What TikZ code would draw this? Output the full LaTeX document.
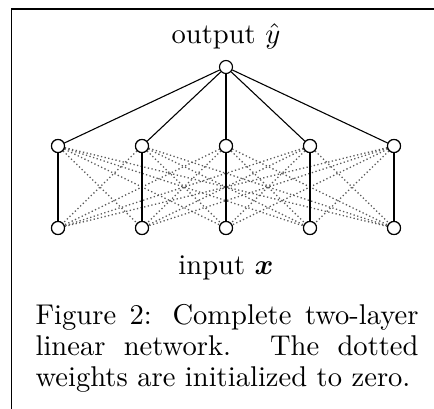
\documentclass[tikz,border=0pt]{standalone}
\usepackage{amsmath,amssymb,bm}
\tikzset{
  unit/.style={circle,draw,fill=white,inner sep=0pt,minimum size=13*0.35pt,line width=0.4pt},
  solidw/.style={line width=0.38pt},
  zerow/.style={line width=0.45pt,black!65,dash pattern=on 0.45pt off 0.85pt},
  lbl/.style={inner sep=0pt,font=\fontsize{10}{12}\selectfont},
}
\begin{document}
\begin{tikzpicture}[x=0.35pt,y=-0.35pt]
\useasboundingbox (0,0) rectangle (434,409);
% frame
\draw[line width=0.55pt] (434,9) -- (11.5,9) -- (11.5,409);
% units
\node[unit] (y) at (226,67) {};
\foreach \i/\x in {1/58,2/142,3/226,4/310,5/394}{
  \node[unit] (h\i) at (\x,146) {};
  \node[unit] (x\i) at (\x,228) {};
}
% zero-initialised weights
\foreach \i in {1,...,5}{
  \foreach \j in {1,...,5}{
    \ifnum\i=\j\else \draw[zerow] (h\i) -- (x\j); \fi
  }
}
% active weights
\foreach \i in {1,...,5}{
  \draw[solidw] (y) -- (h\i);
  \draw[solidw] (h\i) -- (x\i);
}
% redraw units on top
\foreach \i in {1,...,5}{
  \node[unit] at (h\i) {};
  \node[unit] at (x\i) {};
}
\node[lbl] (out) at (226,36) {output $\hat{y}$};
\node[lbl] (in) at (226,268) {input $\bm{x}$};
\node[anchor=north west,inner sep=0pt,text width=383*0.35pt,align=justify,
      font=\fontsize{10}{10.85}\selectfont] (cap) at (35,304)
  {Figure 2: Complete two-layer linear network. The dotted weights are initialized to zero.};
\end{tikzpicture}
\end{document}
